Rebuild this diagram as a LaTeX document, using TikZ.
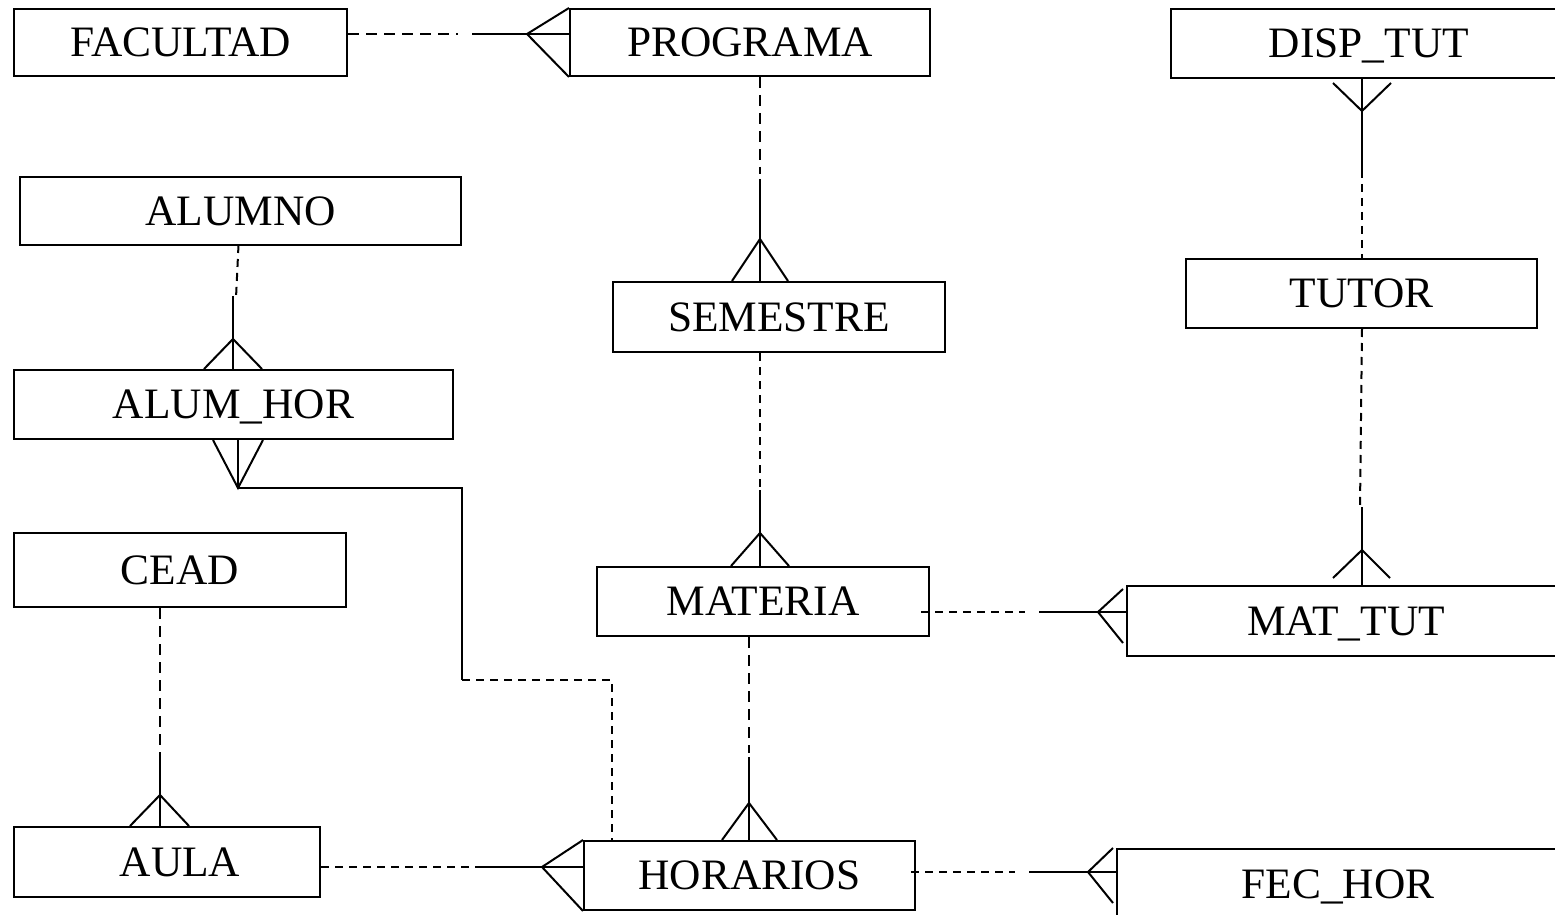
\documentclass[tikz,border=0pt]{standalone}
\usepackage{fontspec}
\setmainfont{Liberation Serif}
\usetikzlibrary{calc}
\begin{document}
\begin{tikzpicture}[x=0.5pt,y=-0.5pt,
  box/.style={draw,line width=1pt,rectangle,inner sep=0pt,text height=14.4pt,text depth=0pt,
    font=\fontsize{21.7}{26}\selectfont},
  ln/.style={line width=1pt},
  dl/.style={line width=1pt,dash pattern=on 4pt off 3pt},
  dlong/.style={line width=1pt,dash pattern=on 5.5pt off 3.5pt}]
\useasboundingbox (0,0) rectangle (1555,915);
\clip (0,0) rectangle (1555,915);
% entities
\node[box,minimum width=166.5pt,minimum height=33.5pt] (FACULTAD) at (180.5,42.5) {FACULTAD};
\node[box,minimum width=180pt,minimum height=33.5pt] (PROGRAMA) at (750,42.5) {PROGRAMA};
\node[box,minimum width=198pt,minimum height=34.5pt] (DISP) at (1369,43.5) {DISP\_TUT};
\node[box,minimum width=220.5pt,minimum height=34pt] (ALUMNO) at (240.5,211) {ALUMNO};
\node[box,minimum width=166pt,minimum height=35pt] (SEMESTRE) at (779,317) {SEMESTRE};
\node[box,minimum width=175.5pt,minimum height=34.5pt] (TUTOR) at (1361.5,293.5) {TUTOR};
\node[box,minimum width=219.5pt,minimum height=34.5pt] (ALUMHOR) at (233.5,404.5) {ALUM\_HOR};
\node[box,minimum width=166pt,minimum height=37pt] (CEAD) at (180,570) {CEAD};
\node[box,minimum width=166pt,minimum height=34.5pt] (MATERIA) at (763,601.5) {MATERIA};
\node[box,minimum width=219pt,minimum height=35pt] (MATTUT) at (1346,621) {MAT\_TUT};
\node[box,minimum width=153pt,minimum height=35pt] (AULA) at (167,862) {\hspace*{13pt}AULA};
\node[box,minimum width=165.5pt,minimum height=34.5pt] (HORARIOS) at (749.5,875.5) {HORARIOS};
\node[box,minimum width=221pt,minimum height=35pt] (FECHOR) at (1338,884) {FEC\_HOR};

% FACULTAD -- PROGRAMA
\coordinate (fpA) at (527,34);
\coordinate (fpD) at (458,34);
\coordinate (fpS) at (472,34);
\draw[dlong] (FACULTAD.east |- fpA) -- (fpD);
\draw[ln] (fpS) -- (PROGRAMA.west |- fpA);
\draw[ln] (PROGRAMA.north west) -- (fpA) -- (PROGRAMA.south west);

% PROGRAMA -- SEMESTRE
\coordinate (psA) at (760,239);
\coordinate (psD) at (760,174);
\coordinate (psS) at (760,179);
\draw[dlong] (PROGRAMA.south -| psA) -- (psD);
\draw[ln] (psS) -- (SEMESTRE.north -| psA);
\draw[ln] ($(SEMESTRE.north -| psA)+(-28,0)$) -- (psA) -- ($(SEMESTRE.north -| psA)+(28,0)$);

% SEMESTRE -- MATERIA
\coordinate (smA) at (760,533);
\coordinate (smD) at (760,487);
\coordinate (smS) at (760,490);
\draw[dl] (SEMESTRE.south -| smA) -- (smD);
\draw[ln] (smS) -- (MATERIA.north -| smA);
\draw[ln] ($(MATERIA.north -| smA)+(-29,0)$) -- (smA) -- ($(MATERIA.north -| smA)+(29,0)$);

% MATERIA -- HORARIOS
\coordinate (mhA) at (749,803);
\coordinate (mhD) at (749,753);
\coordinate (mhS) at (749,757);
\draw[dlong] (MATERIA.south -| mhA) -- (mhD);
\draw[ln] (mhS) -- (HORARIOS.north -| mhA);
\draw[ln] ($(HORARIOS.north -| mhA)+(-27,0)$) -- (mhA) -- ($(HORARIOS.north -| mhA)+(28,0)$);

% ALUMNO -- ALUM_HOR
\coordinate (aaA) at (233,339);
\coordinate (aaT) at (238.5,245);
\coordinate (aaD) at (236,298);
\coordinate (aaS) at (233,296);
\draw[dl] (aaT) -- (aaD);
\draw[ln] (aaS) -- (ALUMHOR.north -| aaA);
\draw[ln] ($(ALUMHOR.north -| aaA)+(-29,0)$) -- (aaA) -- ($(ALUMHOR.north -| aaA)+(29,0)$);

% ALUM_HOR -- HORARIOS
\coordinate (ahA) at (238,488);
\coordinate (ah1) at (462,488);
\coordinate (ah2) at (462,680);
\coordinate (ah3) at (612,680);
\draw[ln] ($(ALUMHOR.south -| ahA)+(-25,0)$) -- (ahA) -- ($(ALUMHOR.south -| ahA)+(25,0)$);
\draw[ln] (ALUMHOR.south -| ahA) -- (ahA) -- (ah1) -- (ah2);
\draw[dl] (ah2) -- (ah3) -- (HORARIOS.north -| ah3);

% CEAD -- AULA
\coordinate (caA) at (160,795);
\coordinate (caD) at (160,752);
\draw[dlong] (CEAD.south -| caA) -- (caD);
\draw[ln] (caD) -- (AULA.north -| caA);
\draw[ln] ($(AULA.north -| caA)+(-30,0)$) -- (caA) -- ($(AULA.north -| caA)+(29,0)$);

% AULA -- HORARIOS
\coordinate (ahoA) at (542,867);
\coordinate (ahoD) at (482,867);
\draw[dl] (AULA.east |- ahoA) -- (ahoD);
\draw[ln] (ahoD) -- (HORARIOS.west |- ahoA);
\draw[ln] (HORARIOS.north west) -- (ahoA) -- (HORARIOS.south west);

% MATERIA -- MAT_TUT
\coordinate (mmA) at (1098,612);
\coordinate (mmB) at (921,612);
\coordinate (mmD) at (1025,612);
\coordinate (mmS) at (1039,612);
\draw[dl] (mmB) -- (mmD);
\draw[ln] (mmS) -- (MATTUT.west |- mmA);
\draw[ln] (1123,589) -- (mmA) -- (1123,643);

% TUTOR -- MAT_TUT
\coordinate (tmA) at (1362,550);
\coordinate (tmD) at (1360,508);
\coordinate (tmS) at (1362,507);
\draw[dl] (TUTOR.south -| tmA) -- (tmD);
\draw[ln] (tmS) -- (1362,586);
\draw[ln] (1333,578) -- (tmA) -- (1390,578);

% DISP_TUT -- TUTOR
\coordinate (dtA) at (1362,111);
\coordinate (dtS) at (1362,170);
\draw[ln] (1333,83) -- (dtA) -- (1391,83);
\draw[ln] (DISP.south -| dtA) -- (dtS);
\draw[dl] (dtS) -- (TUTOR.north -| dtS);

% HORARIOS -- FEC_HOR
\coordinate (hfA) at (1088,872);
\coordinate (hfB) at (911,872);
\coordinate (hfD) at (1015,872);
\coordinate (hfS) at (1029,872);
\draw[dl] (hfB) -- (hfD);
\draw[ln] (hfS) -- (FECHOR.west |- hfA);
\draw[ln] (1113,848) -- (hfA) -- (1113,903);
\end{tikzpicture}
\end{document}
